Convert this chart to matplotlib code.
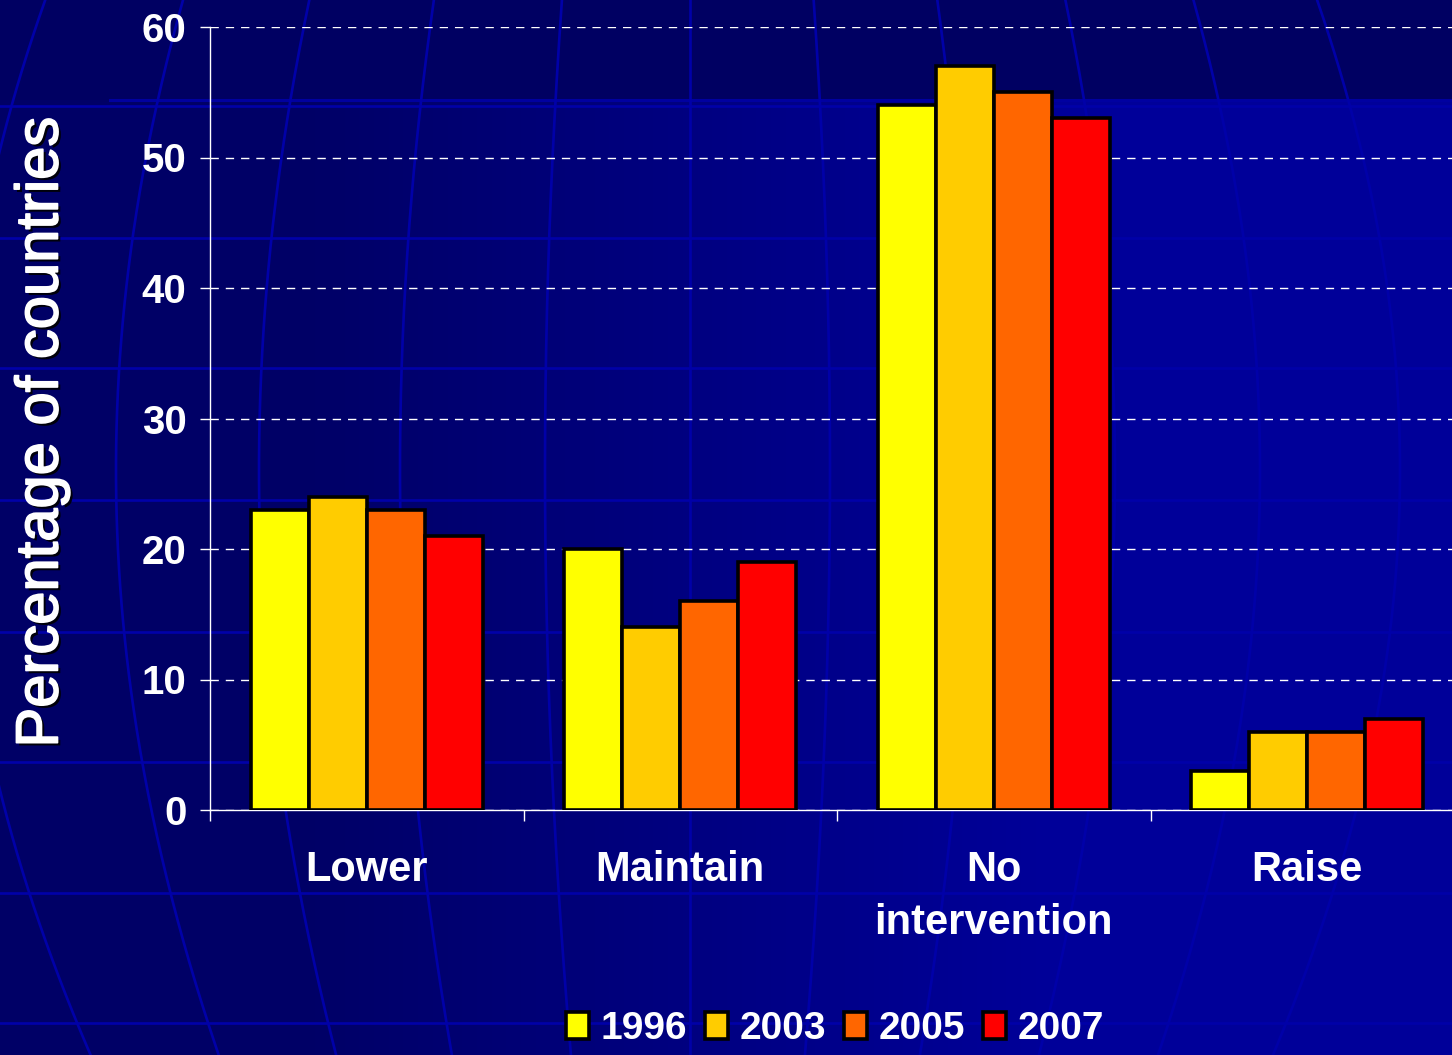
import numpy as np
import matplotlib
matplotlib.use("Agg")
import matplotlib.pyplot as plt
import matplotlib.patheffects as pe

plt.rcParams['font.family'] = ['Liberation Sans', 'DejaVu Sans']

# data
categories = ['Lower', 'Maintain', 'No\nintervention', 'Raise']
years = ['1996', '2003', '2005', '2007']
v1996 = [23, 20, 54, 3]
v2003 = [24, 14, 57, 6]
v2005 = [23, 16, 55, 6]
v2007 = [21, 19, 53, 7]
colors = ['#FFFF00', '#FFCC00', '#FF6600', '#FF0000']

W, H = 1452, 1055
fig = plt.figure(figsize=(W / 100, H / 100), dpi=100)

# slide background: dark top band, left-to-right blue gradient below
img = np.zeros((H, W, 3))
xs = np.arange(W)
t = np.clip((xs - 300) / 750.0, 0, 1)
blue = (0x66 + t * (0x99 - 0x66)) / 255.0
img[:, :, 2] = blue[None, :]
img[:100, :, 2] = 0x62 / 255.0
bg = fig.add_axes([0, 0, 1, 1], zorder=-10)
bg.imshow(img, extent=(0, W, H, 0), aspect='auto')
line_col = '#0000A8'
for yy in [106, 238, 368, 500, 632, 762, 893, 1023]:
    bg.plot([0, W], [yy, yy], color=line_col, lw=1.9)
bg.plot([110, W], [100, 100], color='#0000A0', lw=2.2)
yy = np.linspace(0, H, 300)
for xm in [-40, 116, 259, 400, 545, 690, 830, 970, 1115, 1260, 1400]:
    bg.plot(690 + (xm - 690) * np.cos((yy - 470) / 963.0), yy, color=line_col, lw=1.9)
bg.set_xlim(0, W)
bg.set_ylim(H, 0)
bg.axis('off')

ax = fig.add_axes([210 / W, 1 - 810 / H, 1254 / W, 783 / H])
ax.patch.set_alpha(0)

x = np.arange(len(categories))
w = 0.185
for i, (yr, vals, c) in enumerate(zip(years, [v1996, v2003, v2005, v2007], colors)):
    ax.bar(x + (i - 1.5) * w, vals, w, color=c, edgecolor='black',
           linewidth=2.6, label=yr, zorder=3)

ax.set_xlim(-0.5, 3.5)
ax.set_ylim(0, 60)
ax.set_yticks(range(0, 61, 10))
ax.set_xticks(x)
ax.set_xticklabels(categories, linespacing=1.4)
ax.set_xticks([-0.5, 0.5, 1.5, 2.5, 3.5], minor=True)

ax.yaxis.grid(True, color='white', linestyle=(0, (6, 5)), linewidth=1.0)
ax.set_axisbelow(True)
for s in ['top', 'right']:
    ax.spines[s].set_visible(False)
for s in ['left', 'bottom']:
    ax.spines[s].set_color('white')
    ax.spines[s].set_linewidth(1.0)

ax.tick_params(axis='y', colors='white', length=7, width=1, pad=10,
               labelsize=29)
ax.tick_params(axis='x', which='major', length=0, pad=29, colors='white',
               labelsize=30)
ax.tick_params(axis='x', which='minor', length=8, width=1, color='white')
for lab in ax.get_yticklabels() + ax.get_xticklabels():
    lab.set_fontweight('bold')
    lab.set_color('white')

fig.text(42 / W, 1 - 432 / H, 'Percentage of countries', rotation=90,
         ha='center', va='center', color='white', fontsize=43,
         path_effects=[pe.SimplePatchShadow(offset=(2, -2), shadow_rgbFace='black',
                                            alpha=0.9),
                       pe.withStroke(linewidth=1.2, foreground='white')])

leg = fig.legend(loc='lower center', bbox_to_anchor=(0.575, -0.026), ncol=4,
                 frameon=False, handlelength=0.6, handleheight=0.7,
                 handletextpad=0.3, columnspacing=0.45,
                 prop={'weight': 'bold', 'size': 28})
for txt in leg.get_texts():
    txt.set_color('white')

fig.savefig('out.png', dpi=100)
